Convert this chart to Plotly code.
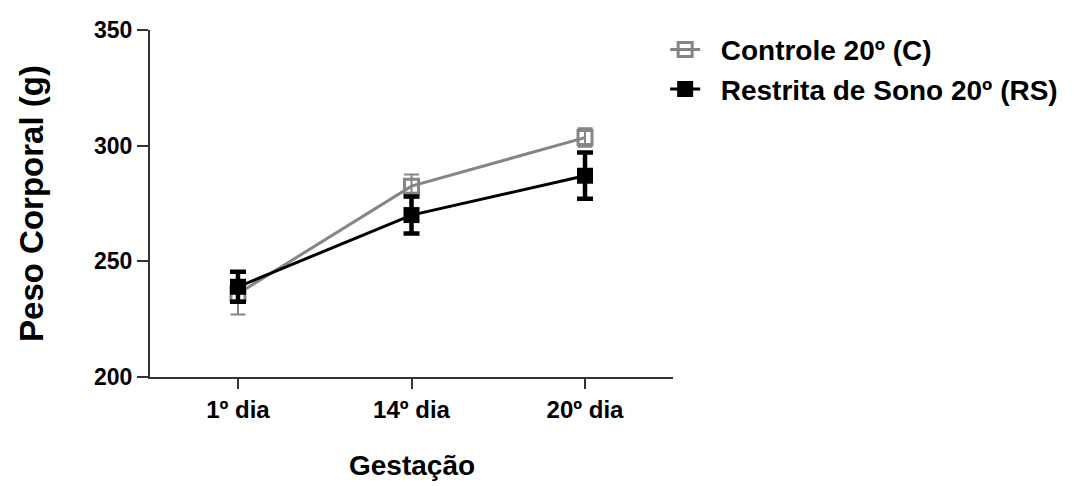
import plotly.graph_objects as go

categories = ["1º dia", "14º dia", "20º dia"]
controle_mean = [236, 282.5, 303.5]
controle_sem = [9, 5, 4]
restrita_mean = [239, 270, 287]
restrita_sem = [6.5, 8, 10]

FONT = "Liberation Sans, Arial, sans-serif"
GRAY = "#858585"

fig = go.Figure()
fig.add_trace(go.Scatter(
    x=categories, y=controle_mean, name="\u00a0\u00a0Controle 20º (C)", legendgroup="c",
    mode="lines+markers",
    line=dict(color=GRAY, width=3),
    marker=dict(symbol="square-open", size=14, color=GRAY, line=dict(color=GRAY, width=3)),
    error_y=dict(type="data", array=controle_sem, visible=True, color=GRAY, thickness=2, width=7.5),
))
fig.add_trace(go.Scatter(
    x=categories, y=restrita_mean, name="\u00a0\u00a0Restrita de Sono 20º (RS)", legendgroup="r",
    mode="lines+markers",
    line=dict(color="black", width=3),
    marker=dict(symbol="square", size=16, color="black"),
    error_y=dict(type="data", array=restrita_sem, visible=True, color="black", thickness=4.5, width=8),
))

fig.update_layout(
    width=1076, height=486,
    margin=dict(l=150, r=403, t=30, b=109),
    paper_bgcolor="white", plot_bgcolor="white",
    font=dict(family=FONT, color="black"),
    showlegend=True,
    legend=dict(
        x=0.985, xanchor="left", y=1.015, yanchor="top",
        font=dict(family=FONT, size=28, color="black", weight="bold"),
        tracegroupgap=12, traceorder="normal",
        bgcolor="rgba(0,0,0,0)",
    ),
    xaxis=dict(
        type="category", range=[-0.507, 2.507],
        showline=True, linecolor="#333333", linewidth=2,
        ticks="outside", ticklen=10, tickwidth=2, tickcolor="#333333",
        showgrid=False, zeroline=False,
        tickfont=dict(family=FONT, size=24, color="black", weight="bold"),
    ),
    yaxis=dict(
        range=[200, 350], tickvals=[200, 250, 300, 350],
        showline=True, linecolor="#333333", linewidth=2,
        ticks="outside", ticklen=11, tickwidth=2, tickcolor="#333333",
        showgrid=False, zeroline=False,
        tickfont=dict(family=FONT, size=23, color="black", weight="bold"),
        title=dict(text="Peso Corporal (g)", font=dict(family=FONT, size=33, color="black", weight="bold"), standoff=40),
    ),
    annotations=[dict(
        text="Gestação", xref="paper", yref="paper", x=0.5, y=-0.255,
        xanchor="center", yanchor="middle", showarrow=False,
        font=dict(family=FONT, size=28, color="black", weight="bold"),
    )],
)

fig.write_html("out.html")
